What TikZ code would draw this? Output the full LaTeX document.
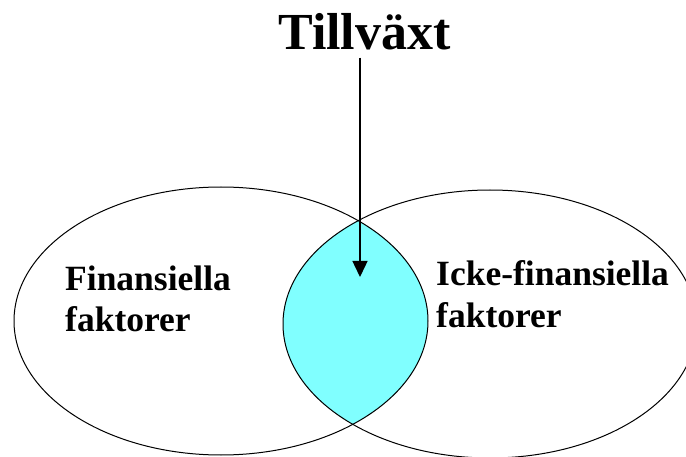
\documentclass[tikz,border=0pt]{standalone}
\usepackage{fontspec}
\setmainfont{Liberation Serif}
\usetikzlibrary{arrows.meta}
\definecolor{lenscyan}{HTML}{80FFFF}
\tikzset{
  venn/.style={draw=black, line width=1pt},
  label/.style={font=\fontsize{35.5}{42}\selectfont\bfseries, align=left, inner sep=0pt, anchor=base west},
  titlelabel/.style={font=\fontsize{52}{60}\selectfont\bfseries, inner sep=0pt, anchor=base},
  pointer/.style={line width=1.4pt, -{Triangle[length=16pt,width=15pt]}}
}
\begin{document}
\begin{tikzpicture}[x=1pt,y=-1pt]
\useasboundingbox (0,0) rectangle (686,457);
% lens fill
\begin{scope}
  \clip (221,321) ellipse [x radius=207, y radius=134];
  \fill[lenscyan] (490,324) ellipse [x radius=207, y radius=134];
\end{scope}
\draw[venn] (221,321) ellipse [x radius=207, y radius=134];
\draw[venn] (490,324) ellipse [x radius=207, y radius=134];
\node[titlelabel] (title) at (364.5,50) {Tillväxt};
\node[label] (fin) at (65,332) {Finansiella\\faktorer};
\node[label] (icke) at (436,327) {Icke-finansiella\\faktorer};
\coordinate (tip) at (360,277);
\draw[pointer] ([yshift=-7pt]title.south -| tip) -- (tip);
\end{tikzpicture}
\end{document}
